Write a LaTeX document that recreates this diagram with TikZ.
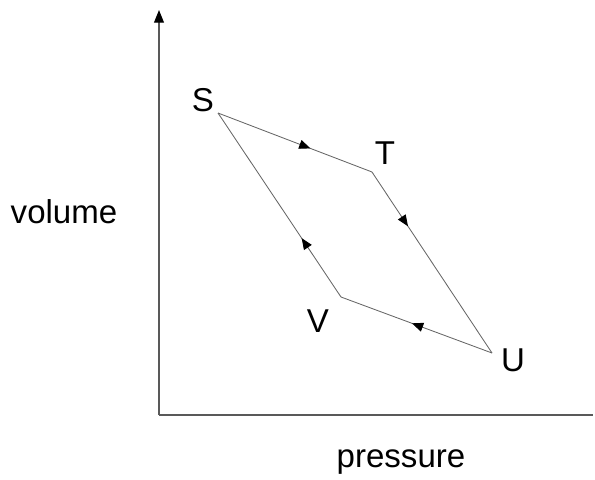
\documentclass[tikz,border=0pt]{standalone}
\usepackage{fontspec}
\setmainfont{Liberation Sans}
\usetikzlibrary{arrows.meta,decorations.markings}
\tikzset{
    axisline/.style={gray!70!black, line width=0.9pt},
    pathline/.style={gray!80!black, line width=0.6pt},
    midarrow/.style={postaction={decorate}, decoration={markings,
        mark=at position #1 with {\arrow{Triangle[length=8pt,width=6.5pt,black]}}}},
    letter/.style={font=\fontsize{23.5}{27}\selectfont, inner sep=0pt},
}
\begin{document}
\begin{tikzpicture}[x=0.025cm, y=-0.025cm]
    \useasboundingbox (0,0) rectangle (595,480);
    % Axes
    \coordinate (O) at (159,415);
    \coordinate (ytip) at (159,10);
    \coordinate (xend) at (593,415);
    \draw[axisline, -{Triangle[length=9pt,width=7pt,black]}] (O) -- (ytip);
    \draw[axisline] (O) -- (xend);
    \node[letter] (vol) at (64,212) {volume};
    \node[letter] (pres) at (401,462) {pressure};

    % Cycle vertices
    \coordinate (S) at (218,113);
    \coordinate (T) at (372,172);
    \coordinate (U) at (492,353);
    \coordinate (V) at (341,297);
    \node[letter] (Slab) at (203,100) {S};
    \node[letter] (Tlab) at (385,153) {T};
    \node[letter] (Ulab) at (513,360) {U};
    \node[letter] (Vlab) at (318,321) {V};

    % Cycle S -> T -> U -> V -> S
    \draw[pathline, midarrow=0.6] (S) -- (T);
    \draw[pathline, midarrow=0.3] (T) -- (U);
    \draw[pathline, midarrow=0.53] (U) -- (V);
    \draw[pathline, midarrow=0.32] (V) -- (S);
\end{tikzpicture}
\end{document}
